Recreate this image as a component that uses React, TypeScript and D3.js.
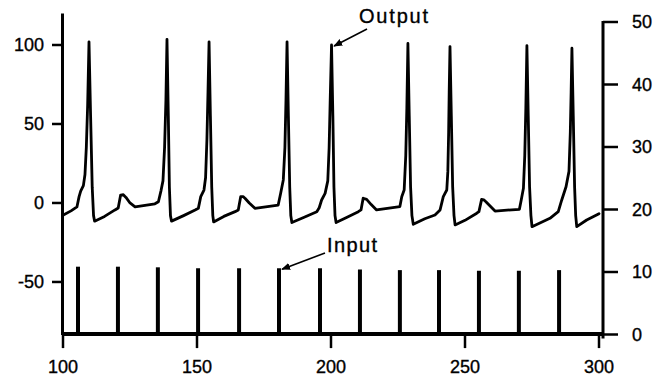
import React from "react";
import * as d3 from "d3";

// Output membrane trace: time (ms) and value (left axis units)
const outputTime = [
  100.3, 103.0, 105.2, 106.0, 106.6, 107.6, 108.2, 108.7, 109.2, 109.7, 110.3, 110.9, 111.4, 111.8,
  115.5, 119.4, 120.6, 121.5, 122.5, 123.5, 125.0, 126.9, 134.3, 135.6, 136.6, 137.3, 137.9, 138.4,
  138.8, 139.3, 139.7, 140.1, 140.5, 145.0, 149.3, 150.5, 151.4, 152.6, 153.2, 153.7, 154.1, 154.5,
  155.0, 155.5, 155.9, 156.2, 160.0, 164.2, 165.4, 166.3, 167.2, 167.9, 169.5, 171.6, 180.3, 181.2,
  182.2, 182.8, 183.2, 183.6, 184.1, 184.6, 185.0, 185.4, 190.0, 194.7, 195.6, 196.5, 197.8, 198.8,
  199.3, 199.7, 200.2, 200.7, 201.1, 201.5, 201.9, 206.0, 210.2, 211.2, 212.0, 213.3, 215.0, 217.0,
  225.7, 226.4, 227.3, 227.9, 228.3, 228.7, 229.2, 229.7, 230.2, 230.7, 235.0, 238.8, 240.7, 241.9,
  243.2, 243.6, 243.9, 244.1, 244.4, 244.9, 245.4, 245.9, 246.3, 250.0, 254.4, 255.2, 256.2, 257.0,
  257.8, 261.2, 270.3, 271.0, 271.8, 272.3, 272.7, 273.1, 273.6, 274.1, 274.6, 275.0, 281.7, 284.8,
  286.1, 287.7, 288.8, 289.3, 289.6, 289.9, 290.4, 290.9, 291.3, 291.7, 295.4, 300.0,
];
const outputValue = [
  -7.5, -5.0, -2.5, 4.0, 7.5, 11, 18, 35, 62, 102, 55, 10, -8, -11.5,
  -8.5, -4.4, -3.2, 5, 5.2, 3.5, 0, -2.5, -0.5, 0.8, 8, 14, 35, 65,
  103.6, 55, 10, -8, -11.5, -8, -4.5, -3.4, 4, 8.2, 16, 40, 70, 102,
  55, 10, -8, -12, -8.5, -5.5, -4.4, 4, 4, 3, 0, -3.4, -1.3, 6,
  14.6, 35, 65, 102, 55, 10, -8, -12.4, -9, -5.5, -3, 1.9, 6.1, 14,
  35, 65, 100, 55, 10, -8, -12.4, -9, -5.5, -4.4, 3, 2.3, -1, -4.4,
  -2.3, 4, 8.2, 30, 60, 101, 55, 10, -8, -13.5, -10, -7.6, -4.4, 4,
  8.2, 20, 45, 70, 99, 55, 10, -8, -13.9, -11, -6.5, -5.5, 2.3, 2.0,
  0.8, -5.1, -4, 2, 9.3, 30, 60, 99.6, 55, 10, -8, -15, -9.7, -5.5,
  1.9, 10.3, 20, 45, 70, 98, 55, 10, -8, -15, -10.8, -6.8,
];

// Input pulse train: onset times (ms) and amplitudes (right axis units)
const inputTime = [105.6, 120.5, 135.4, 150.4, 165.7, 180.6, 195.9, 210.8, 225.7, 240.3, 255.2, 270.1, 285.1];
const inputValue = [10.85, 10.85, 10.75, 10.6, 10.6, 10.6, 10.6, 10.4, 10.3, 10.3, 10.2, 10.2, 10.3];

const xTicks = [100, 150, 200, 250, 300];
const leftTicks = [100, 50, 0, -50];
const rightTicks = [0, 10, 20, 30, 40, 50];

const FONT = "'Liberation Sans', Arial, Helvetica, sans-serif";

export default function App() {
  const x = d3.scaleLinear().domain([100, 300]).range([63, 599]);
  const yL = d3.scaleLinear().domain([-83, 120]).range([334.1, 13.4]);
  const yR = d3.scaleLinear().domain([0, 50]).range([334.5, 22]);

  const pts: [number, number][] = outputTime.map((t, i) => [t, outputValue[i]]);
  const line = d3
    .line<[number, number]>()
    .x((d) => x(d[0]))
    .y((d) => yL(d[1]));

  const xAxisY = yL(-83);
  const rightX = 603;

  // arrow tips: the 200 ms spike peak and the 6th input pulse
  const outTip: [number, number] = [x(200.4) + 2, yL(100) + 1];
  const inTip: [number, number] = [x(inputTime[5]) + 3, yR(inputValue[5]) + 1];

  const labelProps = { stroke: "#000", strokeWidth: 0.35 };

  return (
    <div style={{ position: "absolute", left: 0, top: 0 }}>
      <svg width={667} height={381} style={{ display: "block", background: "#fff" }} fontFamily={FONT}>
        <defs>
          <marker id="arr" viewBox="0 0 10 10" refX="9" refY="5" markerWidth="9" markerHeight="9" markerUnits="userSpaceOnUse" orient="auto">
            <path d="M0,1 L10,5 L0,9 Z" fill="#000" />
          </marker>
        </defs>

        {/* input pulses */}
        {inputTime.map((t, i) => (
          <line key={i} x1={x(t)} x2={x(t)} y1={yR(0)} y2={yR(inputValue[i])} stroke="#000" strokeWidth={4} />
        ))}

        {/* output trace */}
        <path d={line(pts) || ""} fill="none" stroke="#000" strokeWidth={2.8} strokeLinejoin="round" strokeLinecap="round" />

        {/* bottom axis */}
        <line x1={62} x2={rightX + 1} y1={xAxisY} y2={xAxisY} stroke="#000" strokeWidth={4} />
        {xTicks.map((t) => (
          <g key={t}>
            <line x1={x(t)} x2={x(t)} y1={xAxisY} y2={xAxisY + 14} stroke="#000" strokeWidth={2.5} />
            <text x={x(t)} y={373} textAnchor="middle" fontSize={18} {...labelProps}>
              {t}
            </text>
          </g>
        ))}

        {/* left axis */}
        <line x1={62.5} x2={62.5} y1={yL(120)} y2={xAxisY + 1} stroke="#000" strokeWidth={3} />
        {leftTicks.map((v) => (
          <g key={v}>
            <line x1={52} x2={62} y1={yL(v)} y2={yL(v)} stroke="#000" strokeWidth={2.5} />
            <text x={44} y={yL(v)} textAnchor="end" dominantBaseline="central" fontSize={18} {...labelProps}>
              {v}
            </text>
          </g>
        ))}

        {/* right axis */}
        <line x1={rightX} x2={rightX} y1={yR(50) - 1} y2={yR(0) + 4} stroke="#000" strokeWidth={3} />
        {rightTicks.map((v) => (
          <g key={v}>
            <line x1={rightX} x2={rightX + 15} y1={yR(v)} y2={yR(v)} stroke="#000" strokeWidth={2.5} />
            <text x={632} y={yR(v)} textAnchor="start" dominantBaseline="central" fontSize={18} {...labelProps}>
              {v}
            </text>
          </g>
        ))}

        {/* annotations */}
        <text x={359} y={23} fontSize={20} letterSpacing={1.8} {...labelProps}>Output</text>
        <line x1={367} y1={29} x2={outTip[0]} y2={outTip[1]} stroke="#000" strokeWidth={1.6} markerEnd="url(#arr)" />
        <text x={327} y={252} fontSize={20} letterSpacing={1.4} {...labelProps}>Input</text>
        <line x1={325} y1={253} x2={inTip[0]} y2={inTip[1]} stroke="#000" strokeWidth={1.6} markerEnd="url(#arr)" />
      </svg>
    </div>
  );
}
